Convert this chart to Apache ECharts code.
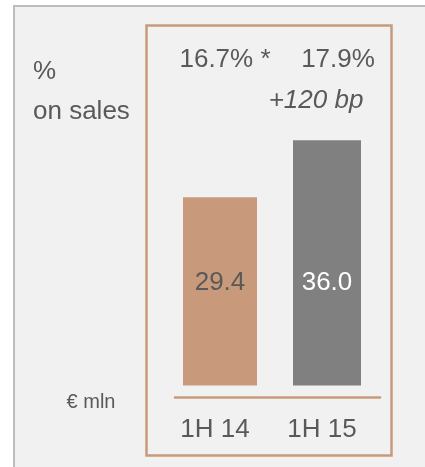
<!DOCTYPE html>
<html>
<head>
<meta charset="utf-8">
<script src="https://cdn.jsdelivr.net/npm/echarts@6/dist/echarts.min.js"></script>
<style>
html,body{margin:0;padding:0;background:#ffffff;}
#c{width:425px;height:467px;}
</style>
</head>
<body>
<div id="c"></div>
<script>
// ---- data ----
var categories = ['1H 14', '1H 15'];
var ebitdaValues = [29.4, 36.0];
var marginLabels = ['16.7% *', '17.9%'];
var deltaLabel = '+120 bp';
var unitLabel = '€ mln';
var marginTitle = ['%', 'on sales'];

var FONT = '"Liberation Sans", Arial, sans-serif';
var TXT = '#595959';
var TAN = '#C89A7B';
var GREY = '#808080';

var chart = echarts.init(document.getElementById('c'), null, {renderer: 'canvas'});

function only(i) {
  return ebitdaValues.map(function (v, k) { return k === i ? v : '-'; });
}

var option = {
  backgroundColor: '#ffffff',
  animation: false,
  graphic: [
    {type: 'rect', z: -10, shape: {x: 14, y: 6, width: 500, height: 500},
     style: {fill: '#F1F1F1', stroke: '#BDBDBD', lineWidth: 2}},
    {type: 'rect', z: -9, shape: {x: 146.5, y: 25.5, width: 245, height: 430},
     style: {fill: 'transparent', stroke: TAN, lineWidth: 2.5}},
    {type: 'text', x: 225, y: 60, style: {text: marginLabels[0], font: '26px ' + FONT, fill: TXT, textAlign: 'center', textVerticalAlign: 'middle'}},
    {type: 'text', x: 338, y: 60, style: {text: marginLabels[1], font: '26px ' + FONT, fill: TXT, textAlign: 'center', textVerticalAlign: 'middle'}},
    {type: 'text', x: 316, y: 101, style: {text: deltaLabel, font: 'italic 26px ' + FONT, fill: TXT, textAlign: 'center', textVerticalAlign: 'middle'}},
    {type: 'text', x: 33, y: 72, style: {text: marginTitle[0], font: '26px ' + FONT, fill: TXT, textAlign: 'left', textVerticalAlign: 'middle'}},
    {type: 'text', x: 33, y: 112, style: {text: marginTitle[1], font: '26px ' + FONT, fill: TXT, textAlign: 'left', textVerticalAlign: 'middle'}},
    {type: 'text', x: 91, y: 402, style: {text: unitLabel, font: '20px ' + FONT, fill: TXT, textAlign: 'center', textVerticalAlign: 'middle'}}
  ],
  grid: [
    {left: 166.5, width: 214, top: 105.7, bottom: 81.5},
    {left: 175, width: 205, top: 300, bottom: 69.5}
  ],
  xAxis: [
    {type: 'category', gridIndex: 0, data: categories,
     axisLine: {show: false}, axisTick: {show: false},
     axisLabel: {margin: 29.5, fontSize: 26, fontFamily: FONT, color: TXT, lineHeight: 30, padding: [0, 10, 0, 0]}},
    {type: 'category', gridIndex: 0, data: categories, show: false},
    {type: 'category', gridIndex: 1, data: categories,
     axisLine: {show: true, lineStyle: {color: TAN, width: 2.5}},
     axisTick: {show: false}, axisLabel: {show: false}}
  ],
  yAxis: [
    {type: 'value', gridIndex: 0, min: 7.6, max: 40, show: false, splitLine: {show: false}},
    {type: 'value', gridIndex: 1, show: false, splitLine: {show: false}}
  ],
  series: [
    {type: 'bar', xAxisIndex: 0, yAxisIndex: 0, data: only(0), barWidth: 74,
     itemStyle: {color: TAN},
     label: {show: true, position: 'insideBottom', distance: 90, fontSize: 26, fontFamily: FONT, color: TXT,
             formatter: function (p) { return Number(p.value).toFixed(1); }}},
    {type: 'bar', xAxisIndex: 1, yAxisIndex: 0, data: only(1), barWidth: 68,
     itemStyle: {color: GREY},
     label: {show: true, position: 'insideBottom', distance: 90, fontSize: 26, fontFamily: FONT, color: '#ffffff',
             formatter: function (p) { return Number(p.value).toFixed(1); }}}
  ]
};
chart.setOption(option);
</script>
</body>
</html>
